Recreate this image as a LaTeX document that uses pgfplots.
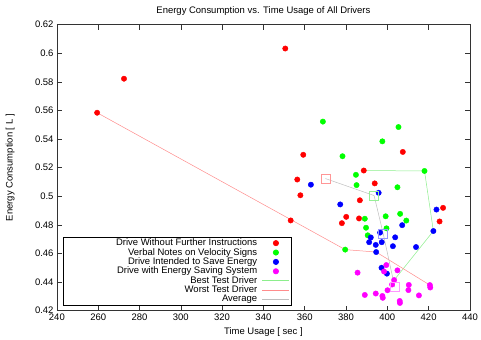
\documentclass[border=0pt]{standalone}
\usepackage{fontspec}
\setmainfont{Liberation Sans}
\usepackage{pgfplots}
\pgfplotsset{compat=1.18}
\definecolor{cR}{RGB}{255,0,0}
\definecolor{cG}{RGB}{0,255,0}
\definecolor{cB}{RGB}{0,0,255}
\definecolor{cM}{RGB}{255,0,255}
\definecolor{lG}{RGB}{140,238,140}
\definecolor{lR}{RGB}{255,140,140}
\definecolor{lA}{RGB}{190,190,190}
\definecolor{sR}{RGB}{255,150,150}
\definecolor{sG}{RGB}{150,240,150}
\definecolor{sB}{RGB}{150,150,255}
\definecolor{sM}{RGB}{255,150,255}
\begin{document}
\fontsize{9.5}{11}\selectfont
\begin{tikzpicture}
\begin{axis}[
  scale only axis, width=414pt, height=286.7pt,
  xmin=240, xmax=440, ymin=0.42, ymax=0.62,
  xtick={240,260,280,300,320,340,360,380,400,420,440},
  ytick={0.42,0.44,0.46,0.48,0.5,0.52,0.54,0.56,0.58,0.6,0.62},
  /pgf/number format/assume math mode=true,
  yticklabel style={/pgf/number format/fixed,/pgf/number format/precision=2},
  xticklabel style={/pgf/number format/set thousands separator={}},
  tick align=inside, major tick length=5pt,
  axis line style={black!80, line width=0.6pt},
  tick style={black!80, line width=0.5pt},
  title={Energy Consumption vs. Time Usage of All Drivers},
  xlabel={Time Usage [ sec ]},
  ylabel={Energy Consumption [ L ]},
  ylabel style={yshift=14pt},
  legend plot pos=right,
  legend cell align=right,
  legend image code/.code={\draw[mark repeat=2,mark phase=2,#1] plot coordinates {(0pt,0pt)(13.5pt,0pt)(27pt,0pt)};},
  legend style={at={(axis description cs:0,0)}, anchor=south west, xshift=6pt, yshift=5pt,
    draw=black, line width=0.6pt, inner sep=1.5pt, row sep=0.4pt,
    nodes={inner sep=0pt, text height=7pt, text depth=2pt},
    /tikz/every odd column/.append style={column sep=5pt}},
  clip=false,
]
\addplot[only marks, mark=*, mark size=2.7pt, color=cR] coordinates {
(259.5,0.5584) (272.5,0.5822) (350.6,0.6033) (359.3,0.5290) (407.5,0.5310)
(356.4,0.5117) (357.9,0.5007) (353.2,0.4831) (388.6,0.5180) (393.9,0.5090)
(386.7,0.4972) (380.1,0.4856) (386.3,0.4845) (378.0,0.4812) (427.0,0.4919)
(425.3,0.4824)};
\addlegendentry{\makebox[193pt][r]{Drive Without Further Instructions}}
\addplot[only marks, mark=*, mark size=2.7pt, color=cG] coordinates {
(368.8,0.5522) (397.6,0.5384) (405.4,0.5484) (378.3,0.5280) (384.8,0.5150)
(418.0,0.5177) (385.1,0.5078) (404.9,0.5063) (389.1,0.4843) (399.2,0.4860)
(406.2,0.4877) (409.2,0.4830) (389.7,0.4780) (399.6,0.4776) (390.5,0.4727)
(379.6,0.4627)};
\addlegendentry{Verbal Notes on Velocity Signs}
\addplot[only marks, mark=*, mark size=2.7pt, color=cB] coordinates {
(363.0,0.5081) (395.8,0.5024) (377.2,0.4943) (396.5,0.4746) (392.0,0.4712)
(391.2,0.4679) (394.4,0.4660) (397.3,0.4679) (394.6,0.4610) (403.8,0.4713)
(402.7,0.4651) (413.9,0.4645) (407.2,0.4798) (422.3,0.4757) (423.8,0.4907)
(397.2,0.4500) (399.8,0.4459)};
\addlegendentry{Drive Intended to Save Energy}
\addplot[only marks, mark=*, mark size=2.7pt, color=cM] coordinates {
(385.6,0.4466) (389.1,0.4310) (394.4,0.4320) (397.6,0.4303) (397.8,0.4290)
(398.4,0.4474) (399.5,0.4519) (400.1,0.4343) (402.3,0.4383) (403.3,0.4414)
(404.9,0.4482) (406.0,0.4268) (406.1,0.4254) (410.4,0.4380) (410.2,0.4344)
(415.3,0.4307) (420.6,0.4379) (420.8,0.4362)};
\addlegendentry{Drive with Energy Saving System}
\addplot[lG, line width=0.5pt, no marks] coordinates {
(388.6,0.5180) (418.0,0.5177) (422.3,0.4757) (403.3,0.4414)};
\addlegendentry{Best Test Driver}
\addplot[lR, line width=0.5pt, no marks] coordinates {
(259.5,0.5584) (379.6,0.4627) (394.6,0.4610) (420.6,0.4379)};
\addlegendentry{Worst Test Driver}
\addplot[lA, line width=0.5pt, no marks] coordinates {
(370.0,0.5124) (393.6,0.5005) (398.0,0.4739) (403.6,0.4365)};
\addlegendentry{Average}
\addplot[forget plot, only marks, mark=square, mark size=4.5pt, mark options={sR, line width=0.5pt}] coordinates {(370.0,0.5124)};
\addplot[forget plot, only marks, mark=square, mark size=4.5pt, mark options={sG, line width=0.5pt}] coordinates {(393.6,0.5005)};
\addplot[forget plot, only marks, mark=square, mark size=4.5pt, mark options={sB, line width=0.5pt}] coordinates {(398.0,0.4739)};
\addplot[forget plot, only marks, mark=square, mark size=4.5pt, mark options={sM, line width=0.5pt}] coordinates {(403.6,0.4365)};
\path (rel axis cs:0,0) ++(-57pt,-28.6pt) coordinate (bl);
\path (rel axis cs:1,1) ++(10pt,24.7pt) coordinate (tr);
\end{axis}
\path (bl) rectangle (tr);
\end{tikzpicture}
\end{document}
